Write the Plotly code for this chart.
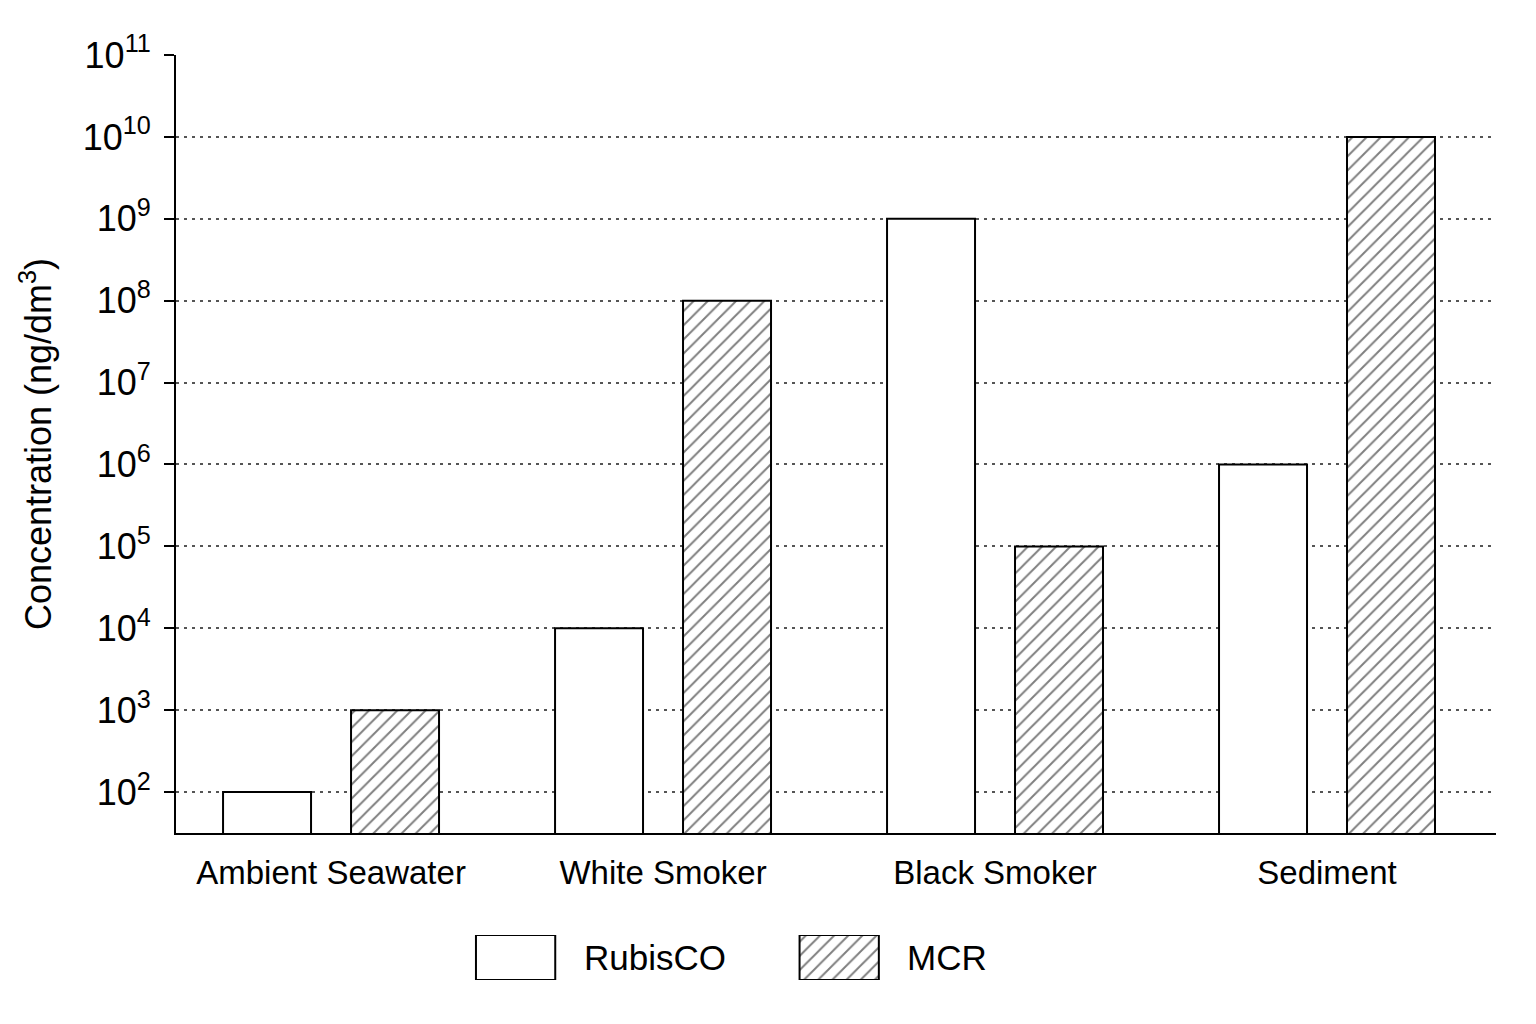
import plotly.graph_objects as go

# data
categories = ["Ambient Seawater", "White Smoker", "Black Smoker", "Sediment"]
rubisco = [1e2, 1e4, 1e9, 1e6]
mcr = [1e3, 1e8, 1e5, 1e10]
exponents = list(range(2, 12))
tick_vals = [10 ** e for e in exponents]
tick_text = ["10<sup>%d</sup>" % e for e in exponents]
legend_names = ["RubisCO", "MCR"]
legend_values = [1, 1]

FONT = "Liberation Sans, Arial, sans-serif"
hatch = dict(shape="/", fgcolor="black", bgcolor="white", size=10, solidity=0.2)

fig = go.Figure()

fig.add_trace(go.Bar(
    x=categories, y=rubisco, name="RubisCO",
    marker=dict(color="white", line=dict(color="black", width=2)),
    showlegend=False,
))
fig.add_trace(go.Bar(
    x=categories, y=mcr, name="MCR",
    marker=dict(color="white", line=dict(color="black", width=2), pattern=hatch),
    showlegend=False,
))

# legend swatches drawn as bars on a small hidden axis pair
fig.add_trace(go.Bar(
    x=legend_names, y=legend_values, xaxis="x2", yaxis="y2", width=0.245,
    marker=dict(color="white", line=dict(color="black", width=2),
                pattern=dict(hatch, shape=["", "/"])),
    showlegend=False, hoverinfo="skip",
))

fig.update_layout(
    width=1536, height=1024,
    margin=dict(l=168, r=48, t=47, b=48),
    paper_bgcolor="white", plot_bgcolor="white",
    font=dict(family=FONT, color="black"),
    barmode="group", bargap=0.229, bargroupgap=0.3125,
    xaxis=dict(
        domain=[0, 1], range=[-0.467, 3.509],
        showline=True, linecolor="black", linewidth=2,
        ticks="outside", ticklen=9, tickcolor="rgba(0,0,0,0)",
        tickfont=dict(size=33), showgrid=False, anchor="y",
    ),
    yaxis=dict(
        domain=[0.1625, 1], type="log", range=[1.5, 11],
        tickvals=tick_vals, ticktext=tick_text,
        tickfont=dict(size=36), ticklabelstandoff=6,
        showline=True, linecolor="black", linewidth=2,
        ticks="outside", ticklen=10, tickwidth=2, tickcolor="black",
        showgrid=True, gridcolor="#555555", gridwidth=2, griddash="3px,5px",
        title=dict(text="Concentration (ng/dm<sup>3</sup>)", font=dict(size=36), standoff=20),
        zeroline=False, anchor="x",
    ),
    xaxis2=dict(domain=[0.1347, 0.6250], range=[-0.5, 1.5], visible=False, anchor="y2"),
    yaxis2=dict(domain=[0.0043, 0.0527], range=[0, 1], visible=False, anchor="x2"),
)

fig.add_annotation(text="RubisCO", xref="paper", yref="paper", x=0.3075, y=0.028,
                   xanchor="left", yanchor="middle", showarrow=False,
                   font=dict(size=35, family=FONT))
fig.add_annotation(text="MCR", xref="paper", yref="paper", x=0.5525, y=0.028,
                   xanchor="left", yanchor="middle", showarrow=False,
                   font=dict(size=35, family=FONT))

fig.write_html("out.html")
